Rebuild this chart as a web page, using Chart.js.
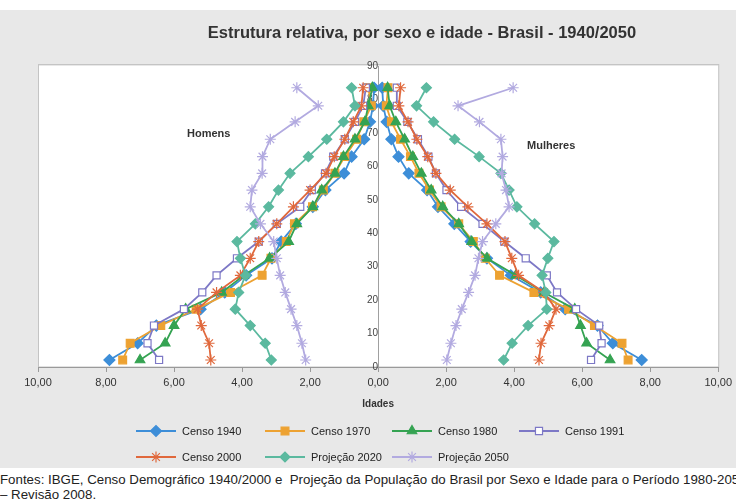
<!DOCTYPE html>
<html lang="pt">
<head>
<meta charset="utf-8">
<script src="https://cdn.jsdelivr.net/npm/chart.js@4.4.1/dist/chart.umd.min.js"></script>
<style>
  html, body { margin: 0; padding: 0; background: #fff; }
  body { width: 736px; height: 503px; position: relative; overflow: hidden;
         font-family: "Liberation Sans Narrow", "Liberation Sans", Arial, sans-serif; color: #222; }
  #panel { position: absolute; left: 0; top: 10px; width: 736px; height: 458px; background: #e8e8e8; }
  #wrap { position: absolute; left: 0; top: 0; width: 736px; height: 470px; }
  #title { position: absolute; top: 23px; left: 0; width: 844px; text-align: center;
           font-weight: bold; font-size: 16.5px; color: #333; white-space: nowrap; }
  .side { position: absolute; font-weight: bold; font-size: 11px; color: #333; }
  #footer { position: absolute; left: 0; top: 472px; width: 736px; font-size: 13.3px; line-height: 15px;
            white-space: nowrap; overflow: hidden; color: #222; }
</style>
</head>
<body>
<div id="panel"></div>
<div id="wrap"><canvas id="chart" width="736" height="470"></canvas></div>
<div id="title">Estrutura relativa, por sexo e idade - Brasil - 1940/2050</div>
<div class="side" style="left:187px; top:127px;">Homens</div>
<div class="side" style="left:527px; top:139px;">Mulheres</div>
<div id="footer">Fontes: IBGE, Censo Demográfico 1940/2000 e&nbsp; Projeção da População do Brasil por Sexo e Idade para o Período 1980-2050<br>– Revisão 2008.</div>

<script>
// age groups (0-4 ... 80+) as placed on the vertical axis
const ages = [2.1, 7.1, 12.4, 17.3, 22.3, 27.4, 32.5, 37.5, 42.8, 47.9, 52.9, 57.9, 62.9, 68.1, 73.3, 78.1, 83.5];

const seriesNames = ["Censo 1940", "Censo 1970", "Censo 1980", "Censo 1991",
                     "Censo 2000", "Projeção 2020", "Projeção 2050"];

// % of population, men (left, negative) and women (right)
const menC1940 = [-7.90, -7.07, -6.52, -5.22, -4.51, -3.88, -3.12, -2.85, -2.42, -1.92, -1.55, -1.00, -0.78, -0.41, -0.24, -0.15, -0.12];
const womC1940 = [7.75, 6.90, 6.45, 5.50, 4.78, 3.90, 3.20, 2.72, 2.24, 1.76, 1.44, 0.90, 0.60, 0.39, 0.25, 0.15, 0.12];

const menC1970 = [-7.51, -7.29, -6.39, -5.35, -4.34, -3.41, -3.15, -2.70, -2.46, -1.93, -1.61, -1.27, -0.98, -0.63, -0.42, -0.20, -0.29];
const womC1970 = [7.35, 7.17, 6.36, 5.60, 4.58, 3.57, 3.15, 2.80, 2.37, 1.85, 1.51, 1.20, 0.95, 0.66, 0.39, 0.24, 0.29];

const menC1980 = [-7.00, -6.26, -6.00, -5.66, -4.60, -3.95, -3.19, -2.63, -2.39, -1.92, -1.66, -1.27, -1.02, -0.68, -0.39, -0.29, -0.17];
const womC1980 = [6.82, 6.13, 5.95, 5.78, 4.88, 4.05, 3.20, 2.75, 2.37, 1.90, 1.56, 1.27, 1.02, 0.78, 0.52, 0.34, 0.28];

const menC1991 = [-6.44, -6.78, -6.59, -5.71, -5.17, -4.75, -4.15, -3.51, -2.98, -2.29, -1.95, -1.56, -1.32, -0.98, -0.68, -0.44, -0.36];
const womC1991 = [6.26, 6.57, 6.50, 5.82, 5.26, 4.96, 4.34, 3.71, 3.07, 2.44, 2.01, 1.70, 1.48, 1.17, 0.86, 0.55, 0.55];

const menC2000 = [-4.92, -4.97, -5.20, -5.31, -4.75, -4.05, -3.76, -3.51, -2.98, -2.49, -2.00, -1.53, -1.29, -0.98, -0.73, -0.49, -0.44];
const womC2000 = [4.73, 4.79, 5.03, 5.23, 4.88, 4.13, 3.93, 3.73, 3.20, 2.64, 2.12, 1.70, 1.46, 1.14, 0.88, 0.61, 0.66];

const menP2020 = [-3.14, -3.32, -3.76, -4.20, -4.10, -3.90, -4.05, -4.15, -3.61, -3.22, -2.93, -2.59, -2.05, -1.51, -1.02, -0.68, -0.78];
const womP2020 = [3.69, 3.94, 4.41, 4.96, 4.93, 4.82, 4.99, 5.17, 4.60, 4.08, 3.85, 3.61, 2.97, 2.25, 1.63, 1.13, 1.42];

const menP2050 = [-2.13, -2.24, -2.39, -2.56, -2.73, -2.88, -2.98, -3.07, -3.46, -3.76, -3.71, -3.41, -3.40, -3.17, -2.44, -1.76, -2.39];
const womP2050 = [2.02, 2.14, 2.29, 2.46, 2.66, 2.85, 2.95, 3.07, 3.46, 3.85, 3.76, 3.63, 3.66, 3.61, 2.98, 2.35, 3.97];

const menValues = [menC1940, menC1970, menC1980, menC1991, menC2000, menP2020, menP2050];
const womValues = [womC1940, womC1970, womC1980, womC1991, womC2000, womP2020, womP2050];

// look of each series
const styles = [
  { color: "#3d8ed8", fill: "#3d8ed8", point: "rectRot",  radius: 5.5 },
  { color: "#eda232", fill: "#eda232", point: "rect",     radius: 5.5 },
  { color: "#35a352", fill: "#35a352", point: "triangle", radius: 5.5 },
  { color: "#7d78c6", fill: "#ffffff", point: "rect",     radius: 5   },
  { color: "#e0683c", fill: "#e0683c", point: "star",     radius: 5.5 },
  { color: "#5bb99f", fill: "#5bb99f", point: "rectRot",  radius: 5   },
  { color: "#b2aae0", fill: "#b2aae0", point: "star",     radius: 5.5 }
];

function toPoints(values) {
  return values.map((v, i) => ({ x: v, y: ages[i] }));
}

const datasets = [];
seriesNames.forEach((name, i) => {
  const s = styles[i];
  [menValues[i], womValues[i]].forEach(vals => {
    datasets.push({
      label: name,
      data: toPoints(vals),
      showLine: true,
      borderColor: s.color,
      borderWidth: 1.8,
      pointStyle: s.point,
      pointRadius: s.radius,
      pointBackgroundColor: s.fill,
      pointBorderColor: s.color,
      pointBorderWidth: 1.2,
      order: seriesNames.length - i,
      tension: 0
    });
  });
});

const plotArea = {
  id: "plotArea",
  beforeDraw(chart) {
    const { ctx, chartArea: a } = chart;
    ctx.save();
    ctx.fillStyle = "#ffffff";
    ctx.fillRect(a.left, a.top, a.right - a.left, a.bottom - a.top);
    ctx.strokeStyle = "#c4c4c4";
    ctx.lineWidth = 1;
    ctx.strokeRect(a.left + 0.5, a.top - 1.5, a.right - a.left, a.bottom - a.top + 1.5);
    ctx.restore();
  }
};

// legend laid out as a grid (4 + 3 items)
const legendCols = [136, 265, 392, 519];
const legendRows = [431, 457];
const gridLegend = {
  id: "gridLegend",
  afterDraw(chart) {
    const ctx = chart.ctx;
    ctx.save();
    seriesNames.forEach((name, i) => {
      const ds = chart.data.datasets[i * 2];
      const row = i < 4 ? 0 : 1;
      const col = i < 4 ? i : i - 4;
      const x = legendCols[col], y = legendRows[row];
      ctx.strokeStyle = ds.borderColor;
      ctx.lineWidth = 1.8;
      ctx.beginPath();
      ctx.moveTo(x, y);
      ctx.lineTo(x + 40, y);
      ctx.stroke();
      ctx.fillStyle = ds.pointBackgroundColor;
      ctx.strokeStyle = ds.pointBorderColor;
      ctx.lineWidth = ds.pointBorderWidth;
      Chart.helpers.drawPoint(ctx, {
        pointStyle: ds.pointStyle, rotation: 0,
        radius: ds.pointRadius, borderWidth: ds.pointBorderWidth
      }, x + 20, y);
      ctx.fillStyle = "#222";
      ctx.font = '11px "Liberation Sans Narrow", "Liberation Sans", Arial, sans-serif';
      ctx.textAlign = "left";
      ctx.textBaseline = "middle";
      ctx.fillText(name, x + 46, y + 0.5);
    });
    ctx.restore();
  }
};

const tickFont = { family: '"Liberation Sans Narrow", "Liberation Sans", Arial, sans-serif', size: 11 };

new Chart(document.getElementById("chart"), {
  type: "scatter",
  data: { datasets },
  options: {
    responsive: false,
    animation: false,
    devicePixelRatio: 1,
    layout: { padding: { left: 38, right: 14, top: 66, bottom: 58 } },
    plugins: { legend: { display: false }, tooltip: { enabled: false }, title: { display: false } },
    scales: {
      x: {
        type: "linear",
        min: -10, max: 10,
        ticks: {
          stepSize: 2,
          color: "#333",
          font: tickFont,
          padding: 4,
          callback: v => Math.abs(v).toFixed(2).replace(".", ",")
        },
        grid: { drawOnChartArea: false, drawTicks: true, tickLength: 5, color: "#9a9a9a" },
        border: { color: "#9a9a9a" },
        title: {
          display: true, text: "Idades", color: "#333",
          font: { family: tickFont.family, size: 10, weight: "bold" },
          padding: { top: 2, bottom: 2 }
        },
        afterFit(scale) { scale.height = 45; }
      },
      y: {
        type: "linear",
        min: 0, max: 90,
        position: { x: 0 },
        ticks: { stepSize: 10, color: "#444", font: { family: tickFont.family, size: 10 }, padding: -7 },
        grid: { drawOnChartArea: false, drawTicks: false },
        border: { color: "#a0a0a0" }
      }
    }
  },
  plugins: [plotArea, gridLegend]
});
</script>
</body>
</html>
